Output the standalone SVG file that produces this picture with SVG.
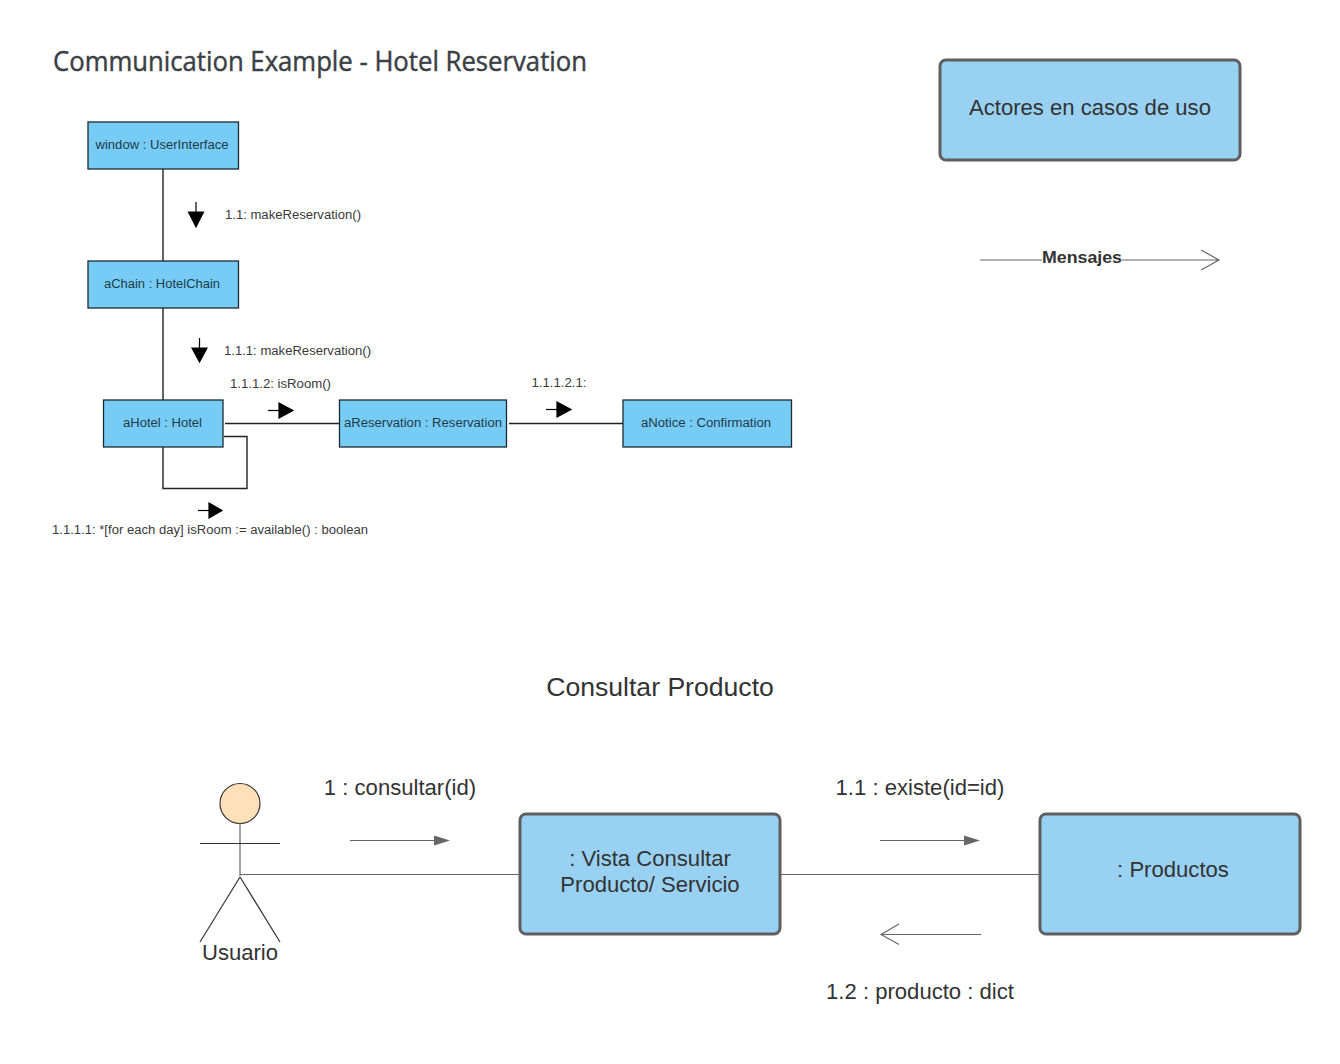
<svg xmlns="http://www.w3.org/2000/svg" width="1340" height="1064" viewBox="0 0 1340 1064">
<style>
text{font-family:"Liberation Sans",Arial,sans-serif;fill:#333}
.s{font-size:12px;fill:#3a3a3a}
.c{text-anchor:middle}
.n{font-size:12px;fill:#1d3a4a}
.u{fill:#77ccf5;stroke:#1c2a33;stroke-width:1.3}
.l{fill:#99d1f3;stroke:#5e5e5e;stroke-width:3}
.t{font-size:22.100px}
.k{fill:none;stroke:#222;stroke-width:1.4}
.g{fill:none;stroke:#666;stroke-width:1.2}
.h{fill:none;stroke:#333;stroke-width:1.2}
.b{fill:#000;stroke:#000;stroke-width:1.2}
</style>
<rect width="1340" height="1064" fill="#fff"/>
<text x="53" y="70.500" font-size="27" style="font-family:'Open Sans','Noto Sans',sans-serif;fill:#3b4045;stroke:#3b4045;stroke-width:0.45" textLength="534" lengthAdjust="spacingAndGlyphs">Communication Example - Hotel Reservation</text>
<g id="connectors">
<path class="k" d="M163 169V261M163 308V400M225 423.500H340M509 423.500H623M224 436.500H247V488.500H163V447"/>
<path class="g" d="M980 260H1042M1122 260H1219M1201 250L1219 260L1201 270"/>
<path class="g" d="M240 874.500H520M781 874.500H1040"/>
<path class="g" d="M350 840.500H436M880 840.500H966M981 934.500H881M899 924L881 934.500L899 944.500"/>
<path d="M434 835.500L450 840.500L434 845.500Z" fill="#666"/>
<path d="M964 835.500L980 840.500L964 845.500Z" fill="#666"/>
<g class="b">
<path d="M196 202V216"/><path d="M188.500 212H203.500L196 227Z"/>
<path d="M199.500 338V352"/><path d="M192 348H207L199.500 362Z"/>
<path d="M268 410.500H281"/><path d="M279 403V418L293 410.500Z"/>
<path d="M546 409.500H559"/><path d="M557 402V417L571 409.500Z"/>
<path d="M198 510.500H211"/><path d="M209 503V518L222 510.500Z"/>
</g>
</g>
<g id="node-window"><rect class="u" x="88" y="122" width="150.500" height="47"/><text class="n c" x="162" y="149" textLength="133" lengthAdjust="spacingAndGlyphs">window : UserInterface</text></g>
<g id="node-chain"><rect class="u" x="88" y="261" width="150.500" height="47"/><text class="n c" x="162" y="288" textLength="116" lengthAdjust="spacingAndGlyphs">aChain : HotelChain</text></g>
<g id="node-hotel"><rect class="u" x="103.500" y="400" width="119.500" height="47"/><text class="n c" x="162.500" y="427" textLength="79" lengthAdjust="spacingAndGlyphs">aHotel : Hotel</text></g>
<g id="node-reservation"><rect class="u" x="339.500" y="400" width="167" height="47"/><text class="n c" x="423" y="427" textLength="158" lengthAdjust="spacingAndGlyphs">aReservation : Reservation</text></g>
<g id="node-notice"><rect class="u" x="623" y="400" width="168.500" height="47"/><text class="n c" x="706" y="427" textLength="130" lengthAdjust="spacingAndGlyphs">aNotice : Confirmation</text></g>
<g id="labels-uml">
<text class="s" x="225" y="219" textLength="136" lengthAdjust="spacingAndGlyphs">1.1: makeReservation()</text>
<text class="s" x="224" y="355" textLength="147" lengthAdjust="spacingAndGlyphs">1.1.1: makeReservation()</text>
<text class="s" x="230" y="388" textLength="101" lengthAdjust="spacingAndGlyphs">1.1.1.2: isRoom()</text>
<text class="s" x="531.500" y="387" textLength="55" lengthAdjust="spacingAndGlyphs">1.1.1.2.1:</text>
<text class="s" x="52" y="534" textLength="316" lengthAdjust="spacingAndGlyphs">1.1.1.1: *[for each day] isRoom := available() : boolean</text>
</g>
<g id="node-actores"><rect class="l" x="940" y="60" width="300" height="100" rx="6"/><text class="t c" x="1090" y="115">Actores en casos de uso</text></g>
<g id="label-mensajes"><text x="1082" y="263" font-size="16.500" font-weight="700" class="c" textLength="80" lengthAdjust="spacingAndGlyphs">Mensajes</text></g>
<text class="c" x="660" y="695.500" font-size="26.600">Consultar Producto</text>
<g id="actor-usuario">
<circle cx="240" cy="803.500" r="20" fill="#ffe0b8" stroke="#333" stroke-width="1.2"/>
<path class="g" d="M240 823.500V876"/>
<path class="h" d="M200 843.500H280M240 877L200 942M240 877L280 942"/>
<text class="t c" x="240" y="959.500">Usuario</text>
</g>
<g id="node-vista"><rect class="l" x="520" y="814" width="260" height="120" rx="6"/><text class="t c" x="650" y="865.500">: Vista Consultar</text><text class="t c" x="650" y="891.500">Producto/ Servicio</text></g>
<g id="node-productos"><rect class="l" x="1040" y="814" width="260" height="120" rx="6"/><text class="t c" x="1173" y="876.500">: Productos</text></g>
<g id="labels-msg">
<text class="t c" x="400" y="794.500">1 : consultar(id)</text>
<text class="t c" x="920" y="794.500">1.1 : existe(id=id)</text>
<text class="t c" x="920" y="998.500">1.2 : producto : dict</text>
</g>
</svg>
